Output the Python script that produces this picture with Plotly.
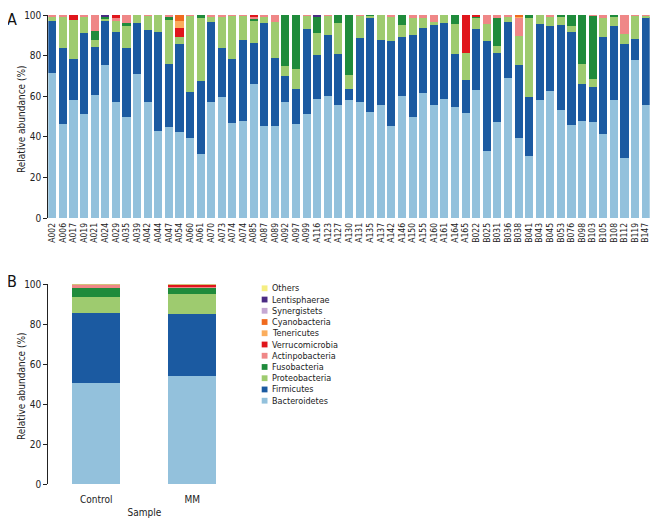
import plotly.graph_objects as go

# The page body has an 8px margin, so the figure is sized to fit the 670x530 window
OFF = 8
W, H = 670 - OFF, 530 - OFF
FONT = "Liberation Sans Narrow, DejaVu Sans Condensed, Arial Narrow, sans-serif"

samples = ["A002","A006","A017","A019","A021","A024","A029","A035","A039","A042",
           "A044","A047","A054","A060","A061","A070","A073","A074","A074","A085",
           "A087","A089","A092","A097","A099","A116","A123","A127","A130","A131",
           "A135","A137","A142","A146","A150","A155","A160","A161","A164","A165",
           "B022","B025","B031","B036","B038","B041","B043","B045","B053","B076",
           "B098","B103","B105","B108","B112","B119","B147"]

bacteroidetes = [71.6,46.4,58.2,51.3,60.7,75.2,57.4,50.0,70.8,57.0,
                 43.1,45.1,42.5,39.3,31.6,57.4,59.5,46.9,47.7,66.1,
                 45.2,45.2,57.0,46.4,51.5,58.7,60.0,55.7,58.2,57.0,
                 52.1,55.6,45.2,60.0,49.8,61.6,55.9,58.7,54.8,51.6,
                 63.3,33.0,47.2,68.9,39.7,30.7,58.0,62.5,53.1,45.7,
                 47.9,47.4,41.6,58.2,29.8,77.9,55.7]
firmicutes = [25.4,37.2,20.0,39.8,23.6,21.7,34.2,33.6,25.3,35.8,
              48.5,31.0,43.2,23.0,35.9,39.2,24.4,31.5,39.8,20.3,
              50.9,33.7,13.0,17.2,41.6,21.6,30.0,25.0,5.4,31.9,
              46.8,32.3,42.2,29.2,40.2,32.0,39.2,37.4,26.2,16.6,
              29.7,54.2,34.1,27.5,35.5,29.0,37.6,32.3,42.0,45.8,
              18.2,17.0,47.6,36.4,55.8,10.3,43.2]
proteobacteria = [2.2,15.6,19.3,8.2,3.6,1.5,5.9,11.2,3.9,6.9,
                  8.4,21.4,3.6,37.5,30.9,2.6,15.3,21.3,12.2,10.8,
                  2.9,17.7,4.8,9.8,6.7,10.7,9.7,15.4,6.9,10.8,
                  0.8,12.1,11.9,5.9,8.4,4.8,1.6,3.9,14.6,12.9,
                  6.0,8.2,3.6,2.8,14.6,39.0,4.4,4.4,4.1,3.1,
                  10.0,4.1,9.3,4.3,5.1,11.5,0.8]
fusobacteria = [0,0,0,0,4.2,0.8,0,1.4,0,0,
                0,1.7,0,0,1.6,0,0,0,0,1.3,
                0,0,25.2,26.6,0,8.5,0,3.9,29.5,0,
                0.3,0,0,4.9,0,0,0,0,4.4,0,
                0.5,0,13.8,0,0,1.3,0,0,0.8,5.4,
                23.9,31.2,0,1.1,0,0,0]
actinobacteria = [0.8,0.8,0,0.7,7.9,0.3,0.8,3.8,0,0.3,
                  0,0.8,0,0.2,0,0.8,0.8,0.3,0.3,0.5,
                  1.0,3.4,0,0,0.2,0,0.3,0,0,0.3,
                  0,0,0.7,0,1.6,1.6,3.3,0,0,0,
                  0,4.6,1.3,0.8,8.9,0,0,0.8,0,0,
                  0,0.3,1.5,0,9.3,0.3,0.3]
verrucomicrobia = [0,0,2.5,0,0,0,1.7,0,0,0,
                   0,0,4.1,0,0,0,0,0,0,1.0,
                   0,0,0,0,0,0,0,0,0,0,
                   0,0,0,0,0,0,0,0,0,18.9,
                   0.5,0,0,0,0,0,0,0,0,0,
                   0,0,0,0,0,0,0]
tenericutes = [0,0,0,0,0,0,0,0,0,0,
               0,0,3.6,0,0,0,0,0,0,0,
               0,0,0,0,0,0,0,0,0,0,
               0,0,0,0,0,0,0,0,0,0,
               0,0,0,0,0.8,0,0,0,0,0,
               0,0,0,0,0,0,0]
cyanobacteria = [0,0,0,0,0,0,0,0,0,0,
                 0,0,3.0,0,0,0,0,0,0,0,
                 0,0,0,0,0,0,0,0,0,0,
                 0,0,0,0,0,0,0,0,0,0,
                 0,0,0,0,0.5,0,0,0,0,0,
                 0,0,0,0,0,0,0]
synergistets = [0]*57
lentisphaerae = [0,0,0,0,0,0.5,0,0,0,0,
                 0,0,0,0,0,0,0,0,0,0,
                 0,0,0,0,0,0.5,0,0,0,0,
                 0,0,0,0,0,0,0,0,0,0,
                 0,0,0,0,0,0,0,0,0,0,
                 0,0,0,0,0,0,0]
others = [0]*57

groups = ["Control", "MM"]
grp_bacteroidetes = [50.5, 54.0]
grp_firmicutes = [35.0, 31.0]
grp_proteobacteria = [8.0, 10.2]
grp_fusobacteria = [4.5, 2.8]
grp_actinobacteria = [1.7, 0.8]
grp_verrucomicrobia = [0.1, 0.9]
grp_tenericutes = [0.05, 0.1]
grp_cyanobacteria = [0.05, 0.1]
grp_synergistets = [0.0, 0.0]
grp_lentisphaerae = [0.05, 0.05]
grp_others = [0.05, 0.05]

phyla = ["Bacteroidetes", "Firmicutes", "Proteobacteria", "Fusobacteria",
         "Actinpobacteria", "Verrucomicrobia", "Tenericutes", "Cyanobacteria",
         "Synergistets", "Lentisphaerae", "Others"]
colors = ["#93c1dc", "#1b5aa1", "#9ecb6f", "#1f8b3b", "#ef8787", "#e0161c",
          "#fbad5d", "#f06a1e", "#c5a8d3", "#4a2b83", "#f5ee82"]
series_a = [bacteroidetes, firmicutes, proteobacteria, fusobacteria, actinobacteria,
            verrucomicrobia, tenericutes, cyanobacteria, synergistets, lentisphaerae, others]
series_b = [grp_bacteroidetes, grp_firmicutes, grp_proteobacteria, grp_fusobacteria,
            grp_actinobacteria, grp_verrucomicrobia, grp_tenericutes, grp_cyanobacteria,
            grp_synergistets, grp_lentisphaerae, grp_others]

fig = go.Figure()
xidx = list(range(len(samples)))
for name, col, ya, yb in zip(phyla, colors, series_a, series_b):
    fig.add_trace(go.Bar(x=xidx, y=ya, name=name, marker=dict(color=col, line=dict(width=0)),
                         width=0.76, xaxis="x", yaxis="y", showlegend=False))
    fig.add_trace(go.Bar(x=groups, y=yb, name=name, marker=dict(color=col, line=dict(width=0)),
                         width=0.5, xaxis="x2", yaxis="y2", showlegend=False))

def px_x(v):
    # page x pixel -> paper fraction
    return (v - OFF) / W

def px_y(v):
    # page y pixel (from top) -> paper fraction (from bottom)
    return (H + OFF - v) / H

axis_font = dict(family=FONT, size=10, color="#222")
fig.update_layout(
    width=W, height=H, barmode="stack",
    margin=dict(l=0, r=0, t=0, b=0),
    paper_bgcolor="white", plot_bgcolor="white",
    font=dict(family=FONT, size=10, color="#222"),
    xaxis=dict(domain=[px_x(48.3), px_x(649.7)], range=[-0.38, 56.38], anchor="y",
               tickmode="array", tickvals=xidx, ticktext=samples, tickangle=-90,
               tickfont=dict(family=FONT, size=8.5, color="#222"), showline=False,
               ticks="", showgrid=False, zeroline=False, automargin=False,
               ticklabelstandoff=2),
    yaxis=dict(domain=[px_y(218.3), px_y(15)], range=[0, 100], dtick=20, anchor="x",
               ticks="outside", ticklen=4, tickcolor="#222", showline=True,
               linecolor="#222", linewidth=1, showgrid=False, zeroline=False,
               tickfont=axis_font, automargin=False),
    xaxis2=dict(domain=[px_x(48.3), px_x(240.3)], range=[-0.5, 1.5], anchor="y2",
                ticks="", showline=False, showgrid=False, zeroline=False,
                tickfont=axis_font, automargin=False, ticklabelstandoff=8,
                title=dict(text="Sample", font=dict(family=FONT, size=10), standoff=4)),
    yaxis2=dict(domain=[px_y(484.3), px_y(284.3)], range=[0, 100], dtick=20, anchor="x2",
                ticks="outside", ticklen=4, tickcolor="#222", showline=True,
                linecolor="#222", linewidth=1, showgrid=False, zeroline=False,
                tickfont=axis_font, automargin=False),
)

annotations = [
    dict(text="A", x=px_x(12), y=px_y(8.5), xref="paper", yref="paper", xanchor="center",
         yanchor="top", borderpad=0, showarrow=False,
         font=dict(family=FONT, size=16, color="#111")),
    dict(text="B", x=px_x(12), y=px_y(281), xref="paper", yref="paper", xanchor="center",
         yanchor="middle", borderpad=0, showarrow=False,
         font=dict(family=FONT, size=16, color="#111")),
    dict(text="Relative abundance (%)", x=px_x(21), y=px_y(119), xref="paper", yref="paper",
         xanchor="center", yanchor="middle", textangle=-90, showarrow=False,
         font=dict(family=FONT, size=10, color="#222")),
    dict(text="Relative abundance (%)", x=px_x(21), y=px_y(386), xref="paper", yref="paper",
         xanchor="center", yanchor="middle", textangle=-90, showarrow=False,
         font=dict(family=FONT, size=10, color="#222")),
]
shapes = []
legend_order = list(zip(phyla, colors))[::-1]
for j, (name, col) in enumerate(legend_order):
    yc = 288.3 + j * 11.24
    shapes.append(dict(type="rect", xref="paper", yref="paper",
                       x0=px_x(261.7), x1=px_x(267.5), y0=px_y(yc + 2.9), y1=px_y(yc - 2.9),
                       fillcolor=col, line=dict(width=0)))
    annotations.append(dict(text=name, x=px_x(270), y=px_y(yc), xref="paper", yref="paper",
                            xanchor="left", yanchor="middle", showarrow=False,
                            font=dict(family=FONT, size=9, color="#222")))
fig.update_layout(annotations=annotations, shapes=shapes)

fig.write_html("out.html")
